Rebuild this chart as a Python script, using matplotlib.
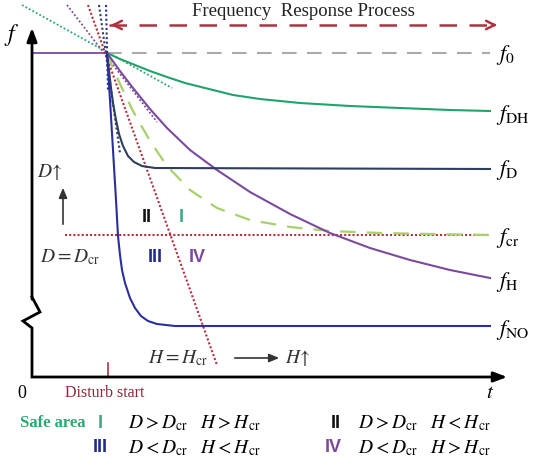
import matplotlib
matplotlib.use("Agg")
import matplotlib.pyplot as plt

plt.rcParams['font.family'] = ['Liberation Serif', 'DejaVu Serif']
plt.rcParams['mathtext.fontset'] = 'stix'

# disturbance instant and the steady frequency before it
t_dist = 75
f_0 = 324

# curves (t, f in drawing units, origin at axes corner)
t_NO = [75, 78, 81, 84, 86, 88, 90, 93, 98, 103, 109, 116, 125, 143, 458]
f_NO = [324, 277, 227, 177, 141, 122, 107, 94, 79, 69, 61, 56, 53, 51, 51]

t_D = [75, 77, 79, 81, 84, 87, 91, 96, 102, 110, 123, 458]
f_D = [324, 307, 289, 274, 257, 243, 231, 221, 215, 211, 209, 208]

t_DH = [75, 88, 103, 118, 135, 153, 173, 201, 228, 268, 318, 368, 418, 458]
f_DH = [324, 318, 312, 306, 300, 294, 289, 282, 278, 274, 271, 269, 267, 266]

t_H = [75, 88, 101, 118, 135, 158, 185, 218, 258, 298, 338, 378, 418, 458]
f_H = [324, 306, 289, 268, 249, 227, 207, 185, 163, 144, 129, 117, 107, 99]

t_cr = [75, 81, 88, 101, 118, 135, 158, 185, 218, 258, 298, 348, 398, 458]
f_cr = [324, 309, 293, 266, 236, 211, 187, 169, 157, 150, 146, 144, 143, 142]

# critical lines
t_Hcr = [56, 185]
f_Hcr = [372, 12]
t_Dcr = [33, 458]
f_Dcr = [142, 142]

# tangent lines at the disturbance point
tan_DH = ([-10, 140], [372, 289])
tan_H = ([35, 125], [372, 255])
tan_D = ([67, 88], [372, 224])
tan_NO = ([74, 76], [372, 285])

# broken y-axis
t_axis = [0, 0, 8, -9, 0, 0]
f_axis = [352, 80, 65, 56, 49, 0]

c_NO = '#2b2f9e'
c_D = '#2e3f5e'
c_DH = '#21a36a'
c_H = '#7a4a9e'
c_cr = '#a8d06c'
c_red = '#b0323f'
c_gray = '#aaaaaa'

fig = plt.figure(figsize=(5.34, 4.70), dpi=100)
ax = fig.add_axes([0, 0, 1, 1])
ax.set_xlim(-32, 502)
ax.set_ylim(-93, 377)
ax.axis('off')

# axes
ax.plot(t_axis[1:], f_axis[1:], color='black', lw=2, solid_joinstyle='miter')
ax.annotate('', xy=(0, 352), xytext=(0, 75),
            arrowprops=dict(arrowstyle='-|>,head_length=0.8,head_width=0.3', color='black', lw=2))
ax.annotate('', xy=(478, 0), xytext=(-1, 0),
            arrowprops=dict(arrowstyle='-|>,head_length=0.8,head_width=0.3', color='black', lw=2))

# tangents
ax.plot(*tan_DH, color='#2aa870', lw=1.3, ls=(0, (1, 1.2)))
ax.plot(*tan_H, color=c_H, lw=1.3, ls=(0, (1, 1.2)))
ax.plot(*tan_D, color=c_D, lw=1.5, ls=(0, (1, 1.2)))
ax.plot(*tan_NO, color=c_NO, lw=1.5, ls=(0, (1, 1.2)))

# f0 before and after the disturbance
ax.plot([0, t_dist], [f_0, f_0], color=c_H, lw=1.3)
ax.plot([t_dist, 458], [f_0, f_0], color=c_gray, lw=1.5, ls=(0, (7, 5)))

# critical lines
ax.plot(t_Dcr, f_Dcr, color=c_red, lw=1.5, ls=(0, (1, 1)))
ax.plot(t_Hcr, f_Hcr, color=c_red, lw=1.5, ls=(0, (1, 1)))

# frequency curves
ax.plot(t_DH, f_DH, color=c_DH, lw=1.5)
ax.plot(t_cr, f_cr, color=c_cr, lw=1.6, ls=(0, (7, 5)))
ax.plot(t_H, f_H, color=c_H, lw=1.5)
ax.plot(t_D, f_D, color=c_D, lw=1.5)
ax.plot(t_NO, f_NO, color=c_NO, lw=1.5)

# response process arrow
ax.plot([77, 466], [352, 352], color=c_red, lw=1.8, ls=(0, (7, 5)))
ax.annotate('', xy=(76, 352), xytext=(86, 352),
            arrowprops=dict(arrowstyle='->,head_length=0.6,head_width=0.3', color=c_red, lw=1.8))
ax.annotate('', xy=(468, 352), xytext=(458, 352),
            arrowprops=dict(arrowstyle='->,head_length=0.6,head_width=0.3', color=c_red, lw=1.8))
ax.text(271, 366, 'Frequency  Response Process', ha='center', va='center', fontsize=13.5, color='#222222')

# curve labels
labels = [(322, r'$f_0$'), (262, r'$f_{\mathrm{DH}}$'), (207, r'$f_{\mathrm{D}}$'),
          (139, r'$f_{\mathrm{cr}}$'), (95, r'$f_{\mathrm{H}}$'), (47, r'$f_{\mathrm{NO}}$')]
for f, s in labels:
    ax.text(464, f, s, ha='left', va='center', fontsize=16)
ax.text(-20, 342, r'$f$', ha='center', va='center', fontsize=17)
ax.text(-10, -16, '0', ha='center', va='center', fontsize=13)
ax.text(458, -16, r'$t$', ha='center', va='center', fontsize=15)

# disturbance tick
ax.plot([t_dist + 1, t_dist + 1], [0, 14], color=c_red, lw=1.2)
ax.text(73, -16, 'Disturb start', ha='center', va='center', fontsize=11.5, color='#8b2a3a')

# D and H annotations
ax.annotate('', xy=(31, 192), xytext=(31, 150),
            arrowprops=dict(arrowstyle='-|>,head_length=0.6,head_width=0.25', color='#333333', lw=1.2))
ax.text(18, 205, r'$D\!\uparrow$', ha='center', va='center', fontsize=14, color='#333333')
ax.text(38, 120, r'$D = D_{\mathrm{cr}}$', ha='center', va='center', fontsize=14, color='#333333')
ax.text(146, 19, r'$H = H_{\mathrm{cr}}$', ha='center', va='center', fontsize=14, color='#333333')
ax.annotate('', xy=(250, 19), xytext=(200, 19),
            arrowprops=dict(arrowstyle='-|>,head_length=0.6,head_width=0.25', color='#333333', lw=1.2))
ax.text(253, 19, r'$H\!\uparrow$', ha='left', va='center', fontsize=14, color='#333333')

# region numerals
rom = dict(fontsize=13, family='Liberation Sans', fontweight='bold', ha='center', va='center')
ax.text(115, 160, 'II', color='#111111', **rom)
ax.text(149, 160, 'I', color='#3aaa80', **rom)
ax.text(123, 120, 'III', color='#1f2a8a', **rom)
ax.text(165, 120, 'IV', color=c_H, **rom)

# legend text
ax.text(-12, -46, 'Safe area', ha='left', va='center', fontsize=12, fontweight='bold', color='#2aa870')
ax.text(68, -46, 'I', color='#3aaa80', **rom)
ax.text(96, -46, r'$D > D_{\mathrm{cr}}\ \ \ H > H_{\mathrm{cr}}$', ha='left', va='center', fontsize=14)
ax.text(304, -46, 'II', color='#111111', **rom)
ax.text(326, -46, r'$D > D_{\mathrm{cr}}\ \ \ H < H_{\mathrm{cr}}$', ha='left', va='center', fontsize=14)
ax.text(68, -71, 'III', color='#1f2a8a', **rom)
ax.text(96, -71, r'$D < D_{\mathrm{cr}}\ \ \ H < H_{\mathrm{cr}}$', ha='left', va='center', fontsize=14)
ax.text(301, -71, 'IV', color=c_H, **rom)
ax.text(326, -71, r'$D < D_{\mathrm{cr}}\ \ \ H > H_{\mathrm{cr}}$', ha='left', va='center', fontsize=14)

fig.savefig('out.png', dpi=100)
